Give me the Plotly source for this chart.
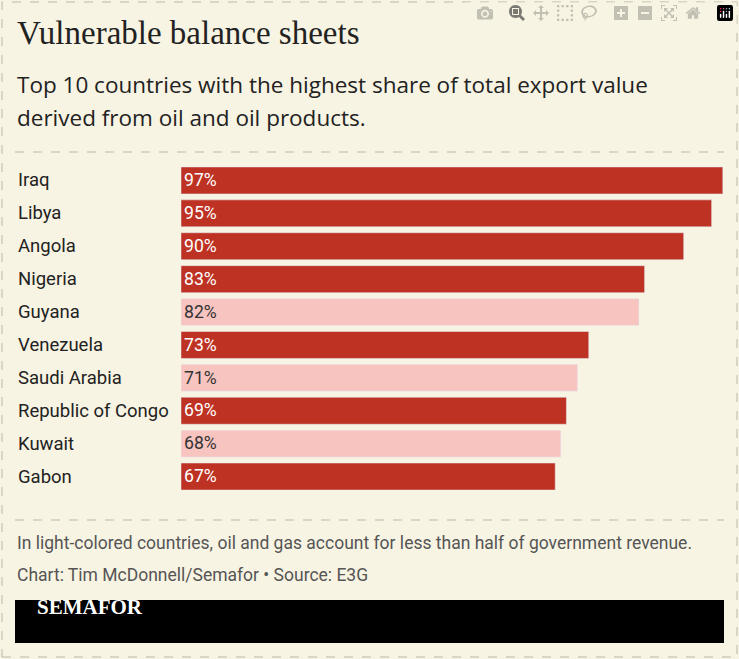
import plotly.graph_objects as go

countries = ["Iraq", "Libya", "Angola", "Nigeria", "Guyana", "Venezuela",
             "Saudi Arabia", "Republic of Congo", "Kuwait", "Gabon"]
shares = [97, 95, 90, 83, 82, 73, 71, 69, 68, 67]
light = [False, False, False, False, True, False, True, False, True, False]

W, H = 739, 659
BG = "#f8f4e3"
DARK = "#be3224"
LIGHT = "#f8c4c0"
SANS = "Roboto, Arial, sans-serif"
SERIF = "Liberation Serif, DejaVu Serif, serif"

colors = [LIGHT if l else DARK for l in light]
text_colors = ["#333333" if l else "white" for l in light]


def py(px):
    return 1 - px / H


def px_x(px):
    return px / W


fig = go.Figure(go.Bar(
    x=shares, y=countries, orientation="h",
    marker_color=colors, width=0.82,
    text=[f"{v}%" for v in shares], textposition="inside",
    insidetextanchor="start",
    textfont=dict(family=SANS, size=18.5, color=text_colors),
    hoverinfo="skip",
))

fig.update_layout(
    width=W, height=H,
    margin=dict(l=0, r=0, t=0, b=0),
    paper_bgcolor=BG, plot_bgcolor=BG,
    showlegend=False,
    bargap=0.18,
    xaxis=dict(domain=[px_x(181), 1], range=[0, 99.9], visible=False),
    yaxis=dict(domain=[py(493), py(164)], autorange="reversed",
               showticklabels=False, showgrid=False, zeroline=False),
)

for c in countries:
    fig.add_annotation(x=px_x(16), xref="paper", y=c, yref="y", text=c,
                       showarrow=False, xanchor="left",
                       font=dict(family=SANS, size=18.5, color="#222"))

texts = [
    (33, "Vulnerable balance sheets", SERIF, 33, "#222"),
    (85, "Top 10 countries with the highest share of total export value", "Open Sans, " + SANS, 22.5, "#222"),
    (117, "derived from oil and oil products.", "Open Sans, " + SANS, 22.5, "#222"),
    (543, "In light-colored countries, oil and gas account for less than half of government revenue.", SANS, 17.5, "#555"),
    (575, "Chart: Tim McDonnell/Semafor • Source: E3G", SANS, 17.5, "#555"),
]
for y, t, f, s, col in texts:
    fig.add_annotation(x=px_x(15), y=py(y), xref="paper", yref="paper", text=t,
                       showarrow=False, xanchor="left", yanchor="middle",
                       font=dict(family=f, size=s, color=col))

fig.add_shape(type="rect", xref="paper", yref="paper",
              x0=px_x(2), x1=px_x(737), y0=py(657), y1=py(2),
              line=dict(color="#bbb8a8", width=1, dash="dash"))
for y in (152, 520):
    fig.add_shape(type="line", xref="paper", yref="paper",
                  x0=px_x(15), x1=px_x(724), y0=py(y), y1=py(y),
                  line=dict(color="#bbb8a8", width=1, dash="dash"))
fig.add_shape(type="rect", xref="paper", yref="paper",
              x0=px_x(15), x1=px_x(724), y0=py(643), y1=py(600),
              fillcolor="black", line=dict(width=0))
fig.add_annotation(x=px_x(35), y=py(621), xref="paper", yref="paper",
                   text="<b>SEMAFOR</b>", showarrow=False, xanchor="left",
                   font=dict(family=SERIF, size=21, color="white"))

fig.write_html("out.html", post_script="document.body.style.margin='0';")
